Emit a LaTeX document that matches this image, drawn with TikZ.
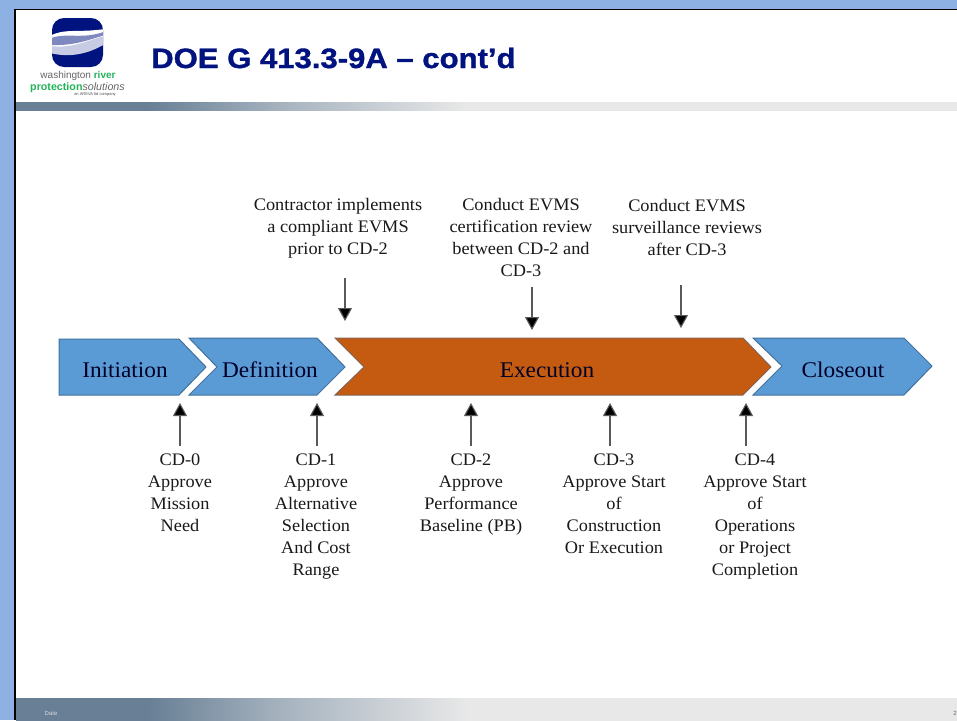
\documentclass[tikz,border=0pt]{standalone}
\usepackage{fontspec}
\setmainfont{Liberation Serif}[FakeStretch=1.04]
\newfontfamily\hdfont{Liberation Sans}
\newfontfamily\ttlfont{Liberation Sans}[FakeStretch=1.11,FakeBold=1.2]
\usetikzlibrary{arrows.meta}
\definecolor{bgblue}{HTML}{8DB1E3}
\definecolor{chevblue}{HTML}{5B9BD5}
\definecolor{chevedge}{HTML}{41719C}
\definecolor{chevor}{HTML}{C55A11}
\definecolor{navy}{HTML}{00137F}
\definecolor{lgreen}{HTML}{22B45A}
\definecolor{barA}{HTML}{687F95}
\definecolor{barM}{HTML}{A5B2BE}
\definecolor{barL}{HTML}{E8E8E8}
\pgfdeclarehorizontalshading{bandgrad}{100bp}{
  color(0bp)=(barA); color(32bp)=(barA); color(39bp)=(barM); color(49bp)=(barL); color(100bp)=(barL)}
\tikzset{
  x=1pt,y=-1pt,
  chevron/.style={draw=chevedge,line width=1pt,fill=chevblue},
  chevtext/.style={font=\fontsize{22.4}{24}\selectfont,text=black!85!blue,inner sep=0pt,anchor=base},
  lbl/.style={font=\fontsize{17.6}{22}\selectfont,align=center,inner sep=0pt,text=black!90},
  cdarrow/.style={draw=black!65,line width=1.1pt,-{Triangle[length=13pt,width=14pt,fill=black]}},
}
\begin{document}
\begin{tikzpicture}
\useasboundingbox (0,0) rectangle (957,720);
\fill[bgblue] (0,0) rectangle (957,720);
\fill[white] (15,9) rectangle (957,720);
\draw[black,line width=1.6pt] (15,720) -- (15,9.5) -- (957,9.5);
% bands
\shade[shading=bandgrad] (16,102) rectangle (957,110);
\shade[shading=bandgrad] (16,698) rectangle (957,720);
% logo
\begin{scope}
\fill[navy,rounded corners=12pt] (52,18) rectangle (103,67);
\clip[rounded corners=12pt] (52,18) rectangle (103,67);
\fill[white] (50,36) .. controls (64,28) and (78,33) .. (105,29) -- (105,37) .. controls (86,41) and (72,50) .. (50,50) -- cycle;
\fill[navy!50!white] (50,38.5) .. controls (66,32) and (82,40) .. (105,31.5) -- (105,35) .. controls (88,40) and (74,46) .. (50,45) -- cycle;
\fill[navy!22!white] (50,46) .. controls (72,49) and (88,40) .. (105,36) -- (105,44) .. controls (88,54) and (70,58) .. (50,53) -- cycle;
\end{scope}
\node[font=\hdfont\fontsize{10}{11}\selectfont,inner sep=0pt,anchor=base] (l1) at (78,78) {\textcolor{black!60}{washington} \textcolor{lgreen}{\textbf{river}}};
\node[font=\hdfont\fontsize{10.7}{12}\selectfont,inner sep=0pt,anchor=base] (l2) at (77.5,90) {\textcolor{lgreen}{\textbf{protection}}\textcolor{black!60}{\textit{solutions}}};
\node[font=\hdfont\fontsize{4}{4}\selectfont,inner sep=0pt,text=black!70] (l3) at (95,94.5) {an AREVA ltd company};
% title
\node[font=\ttlfont\bfseries\fontsize{28}{30}\selectfont,text=navy,anchor=base west,inner sep=0pt] (title) at (151,68) {DOE G 413.3-9A – cont’d};
% chevrons
\path[chevron] (59,339) -- (179,339) -- (206,367) -- (179,395) -- (59,395) -- cycle;
\path[chevron] (189,338) -- (317,338) -- (345,367) -- (317,395) -- (189,395) -- (217,367) -- cycle;
\path[draw=chevedge!50!chevor,line width=1pt,fill=chevor] (335,338) -- (743,338) -- (771,367) -- (743,395) -- (335,395) -- (364,367) -- cycle;
\path[chevron] (753,338) -- (904,338) -- (932,366) -- (904,395) -- (753,395) -- (782,366) -- cycle;
\node[chevtext] (init) at (125,377) {Initiation};
\node[chevtext] (defn) at (270,377) {Definition};
\node[chevtext] (exec) at (547,377) {Execution};
\node[chevtext] (clos) at (843,377) {Closeout};
% top labels
\node[lbl,anchor=north] (t1) at (338,198.5) {Contractor implements\\a compliant EVMS\\prior to CD-2};
\node[lbl,anchor=north] (t2) at (521,198.5) {Conduct EVMS\\certification review\\between CD-2 and\\CD-3};
\node[lbl,anchor=north] (t3) at (687,199.5) {Conduct EVMS\\surveillance reviews\\after CD-3};
\coordinate (ta1) at (345,278); \coordinate (tb1) at (345,321);
\coordinate (ta2) at (532,287); \coordinate (tb2) at (532,330);
\coordinate (ta3) at (681,285); \coordinate (tb3) at (681,328);
\draw[cdarrow] (ta1) -- (tb1);
\draw[cdarrow] (ta2) -- (tb2);
\draw[cdarrow] (ta3) -- (tb3);
% bottom labels
\node[lbl,anchor=north] (b0) at (180,453.5) {CD-0\\Approve\\Mission\\Need};
\node[lbl,anchor=north] (b1) at (316,453.5) {CD-1\\Approve\\Alternative\\Selection\\And Cost\\Range};
\node[lbl,anchor=north] (b2) at (471,453.5) {CD-2\\Approve\\Performance\\Baseline (PB)};
\node[lbl,anchor=north] (b3) at (614,453.5) {CD-3\\Approve Start\\of\\Construction\\Or Execution};
\node[lbl,anchor=north] (b4) at (755,453.5) {CD-4\\Approve Start\\of\\Operations\\or Project\\Completion};
\coordinate (a0) at (180,446); \coordinate (c0) at (180,403);
\coordinate (a1) at (317,446); \coordinate (c1) at (317,403);
\coordinate (a2) at (471,446); \coordinate (c2) at (471,403);
\coordinate (a3) at (610,446); \coordinate (c3) at (610,403);
\coordinate (a4) at (746,446); \coordinate (c4) at (746,403);
\draw[cdarrow] (a0) -- (c0);
\draw[cdarrow] (a1) -- (c1);
\draw[cdarrow] (a2) -- (c2);
\draw[cdarrow] (a3) -- (c3);
\draw[cdarrow] (a4) -- (c4);
% footer
\node[font=\hdfont\fontsize{6}{7}\selectfont,text=white!85!black,inner sep=0pt] (date) at (51,713) {Date};
\node[font=\hdfont\fontsize{6}{7}\selectfont,text=black!60,inner sep=0pt,anchor=east] (pg) at (957,713) {2};
\end{tikzpicture}
\end{document}
